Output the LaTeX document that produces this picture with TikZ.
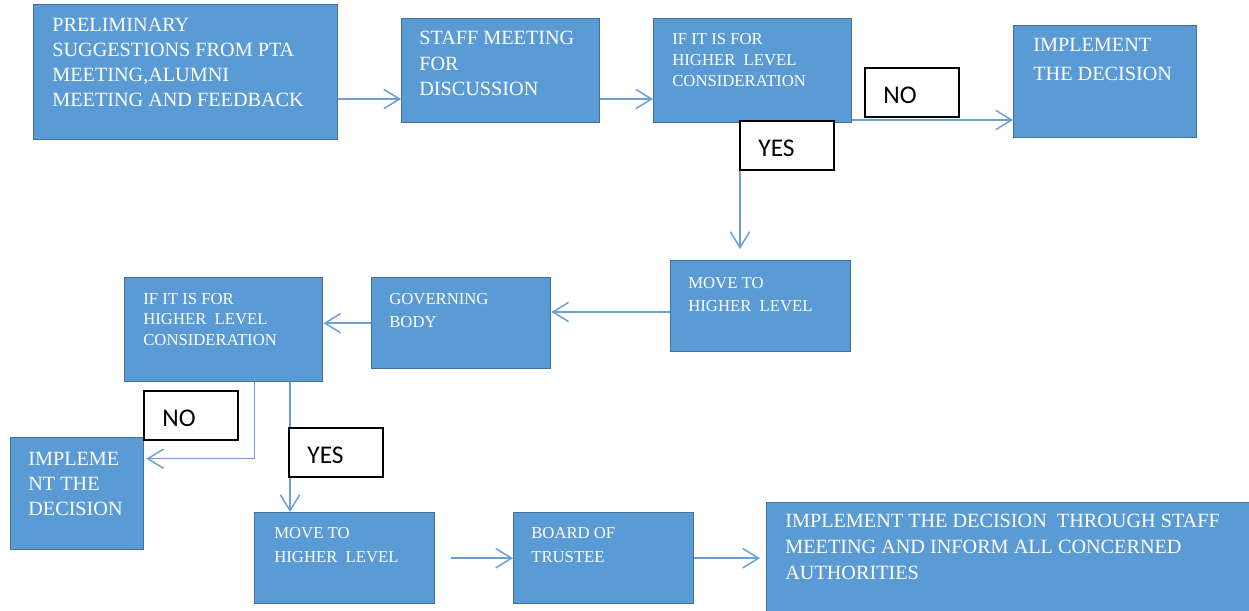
\documentclass[tikz,border=0pt]{standalone}
\usepackage{fontspec}
\setmainfont{Liberation Serif}
\newfontfamily\answerfont{Carlito}
\usetikzlibrary{arrows.meta,calc}

\definecolor{boxblue}{HTML}{5B9BD5}
\definecolor{boxedge}{HTML}{41719C}
\definecolor{flowblue}{HTML}{6A9FD8}

\tikzset{
    box/.style 2 args={draw=boxedge, line width=0.8pt, fill=boxblue, inner sep=0pt,
        minimum width=#1*0.02cm, minimum height=#2*0.02cm, anchor=north west},
    bigtext/.style={text=white, inner sep=0pt, align=left, anchor=north west,
        font=\fontsize{11.5}{#1}\selectfont},
    bigtext/.default=14.2,
    smalltext/.style={text=white, inner sep=0pt, align=left, anchor=north west,
        font=\fontsize{9.5}{#1}\selectfont},
    smalltext/.default=13,
    answer/.style={draw=black, line width=0.9pt, fill=white, inner sep=0pt,
        minimum width=94*0.02cm, minimum height=49*0.02cm, anchor=north west},
    answertext/.style={inner sep=0pt, anchor=west, font=\answerfont\fontsize{14.5}{17}\selectfont},
    flow/.style={draw=flowblue, line width=0.85pt, -{Straight Barb[length=9pt,width=11pt]}}
}

\begin{document}
\begin{tikzpicture}[x=0.02cm, y=-0.02cm]
    \useasboundingbox (0,0) rectangle (1249,611);
    \clip (0,0) rectangle (1249,611);

    % Top row
    \node[box={304}{135}] (prelim) at (33,4) {};
    \node[bigtext] (prelimtext) at ([shift={(19,14)}]prelim.north west)
        {PRELIMINARY\\SUGGESTIONS FROM PTA\\MEETING,ALUMNI\\MEETING AND FEEDBACK};

    \node[box={198}{104}] (staff) at (401,18) {};
    \node[bigtext=14.5] (stafftext) at ([shift={(18,13)}]staff.north west)
        {STAFF MEETING\\FOR\\DISCUSSION};

    \node[box={198}{104}] (ifone) at (653,18) {};
    \node[smalltext=11.9] (ifonetext) at ([shift={(19,15)}]ifone.north west)
        {IF IT IS FOR\\HIGHER~ LEVEL\\CONSIDERATION};

    \node[box={183}{112}] (implone) at (1013,25) {};
    \node[bigtext=16.4] (implonetext) at ([shift={(20,13)}]implone.north west)
        {IMPLEMENT\\THE DECISION};

    % Middle row
    \node[box={180}{91}] (moveone) at (670,260) {};
    \node[smalltext] (moveonetext) at ([shift={(18,17)}]moveone.north west)
        {MOVE TO\\HIGHER~ LEVEL};

    \node[box={179}{91}] (gov) at (371,277) {};
    \node[smalltext] (govtext) at ([shift={(18,16)}]gov.north west)
        {GOVERNING\\BODY};

    \node[box={198}{104}] (iftwo) at (124,277) {};
    \node[smalltext=11.6] (iftwotext) at ([shift={(19,16)}]iftwo.north west)
        {IF IT IS FOR\\HIGHER~ LEVEL\\CONSIDERATION};

    % Bottom row
    \node[box={133}{112}] (impltwo) at (10,437) {};
    \node[bigtext] (impltwotext) at ([shift={(18,15)}]impltwo.north west)
        {IMPLEME\\NT THE\\DECISION};

    \node[box={180}{91}] (movetwo) at (254,512) {};
    \node[smalltext=13.6] (movetwotext) at ([shift={(20,15)}]movetwo.north west)
        {MOVE TO\\HIGHER~ LEVEL};

    \node[box={180}{91}] (board) at (513,512) {};
    \node[smalltext=13.8] (boardtext) at ([shift={(18,15)}]board.north west)
        {BOARD OF\\TRUSTEE};

    \node[box={500}{130}] (final) at (766,502) {};
    \node[bigtext=14.7] (finaltext) at ([shift={(19,12)}]final.north west)
        {IMPLEMENT THE DECISION~ THROUGH STAFF\\MEETING AND INFORM ALL CONCERNED\\AUTHORITIES};

    % Connectors
    \draw[flow] (prelim.east |- 0,99) -- (staff.west |- 0,99);
    \draw[flow] (staff.east |- 0,99) -- (ifone.west |- 0,99);
    \draw[flow] (ifone.east |- 0,120) -- (implone.west |- 0,120);
    \draw[flow] (ifone.south -| 740,0) -- ($(moveone.north -| 740,0)+(0,-11)$);
    \draw[flow] (moveone.west |- 0,312) -- (gov.east |- 0,312);
    \draw[flow] (gov.west) -- (iftwo.east |- gov.west);
    \draw[flow] ([shift={(31,0)}]iftwo.south) |- ($(impltwo.east)+(2,-35)$);
    \draw[flow] (iftwo.south -| 290,0) -- (movetwo.north -| 290,0);
    \draw[flow] ([shift={(16,0)}]movetwo.east) -- (board.west);
    \draw[flow] (board.east) -- ($(final.west |- board.east)+(-6,0)$);

    % Yes / no labels
    \node[answer] (noone) at (864,67) {};
    \node[answertext] (noonetext) at ([shift={(19,3)}]noone.west) {NO};
    \node[answer] (yesone) at (739,120) {};
    \node[answertext] (yesonetext) at ([shift={(19,3)}]yesone.west) {YES};
    \node[answer] (notwo) at (143,390) {};
    \node[answertext] (notwotext) at ([shift={(19,3)}]notwo.west) {NO};
    \node[answer] (yestwo) at (288,427) {};
    \node[answertext] (yestwotext) at ([shift={(19,3)}]yestwo.west) {YES};
\end{tikzpicture}
\end{document}
